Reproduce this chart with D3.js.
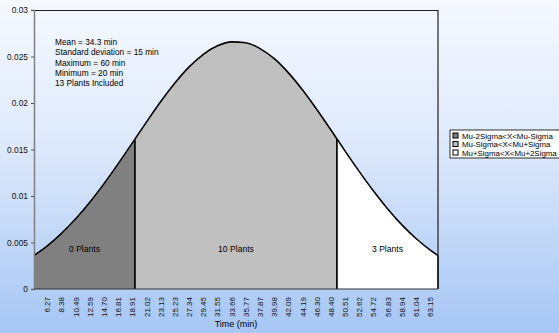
<!DOCTYPE html>
<html>
<head>
<meta charset="utf-8">
<script src="https://cdn.jsdelivr.net/npm/d3@7"></script>
<style>
  body { margin: 0; }
  svg { display: block; font-family: "Liberation Sans", Arial, sans-serif; }
</style>
</head>
<body>
<svg></svg>
<script>
const size = {w: 559, h: 333};
const margin = {t: 10, r: 121, b: 44, l: 34};

// category labels shown on the x axis
const timeTicks = ['6.27', '8.38', '10.49', '12.59', '14.70', '16.81', '18.91', '21.02', '23.13',
    '25.23', '27.34', '29.45', '31.55', '33.66', '35.77', '37.87', '39.98', '42.09', '44.19',
    '46.30', '48.40', '50.51', '52.62', '54.72', '56.83', '58.94', '61.04', '63.15'];

// curve (time in min, density)
const curveTime = [4.3, 6.27, 8.38, 10.49, 12.59, 14.70, 16.81, 18.91, 19.3, 21.02, 23.13, 25.23,
    27.34, 29.45, 31.55, 33.66, 35.77, 37.87, 39.98, 42.09, 44.19, 46.30, 48.40, 49.3, 50.51,
    52.62, 54.72, 56.83, 58.94, 61.04, 63.15, 64.3];
const curveDensity = [0.0036, 0.00464, 0.00598, 0.00755, 0.00933, 0.01133, 0.01348, 0.01571,
    0.01613, 0.01797, 0.02016, 0.02215, 0.02388, 0.02524, 0.02615, 0.02657, 0.02647, 0.02585,
    0.02476, 0.02324, 0.0214, 0.01931, 0.0171, 0.01613, 0.01483, 0.01262, 0.01053, 0.00861,
    0.0069, 0.00543, 0.00418, 0.0036];

const yTicks = [0, 0.005, 0.01, 0.015, 0.02, 0.025, 0.03];

const bands = [
    {name: 'Mu-2Sigma<X<Mu-Sigma', from: 4.3, to: 19.3, label: '0 Plants', color: '#808080'},
    {name: 'Mu-Sigma<X<Mu+Sigma', from: 19.3, to: 49.3, label: '10 Plants', color: '#c0c0c0'},
    {name: 'Mu+Sigma<X<Mu+2Sigma', from: 49.3, to: 64.3, label: '3 Plants', color: '#ffffff'}
];

const notes = ['Mean = 34.3 min', 'Standard deviation = 15 min', 'Maximum = 60 min',
    'Minimum = 20 min', '13 Plants Included'];

const svg = d3.select('svg')
    .attr('width', size.w)
    .attr('height', size.h);

// background gradient
let grad = svg.append('defs').append('linearGradient')
    .attr('id', 'bg').attr('x1', 0).attr('y1', 0).attr('x2', 0).attr('y2', 1);
grad.append('stop').attr('offset', '0%').attr('stop-color', '#f6f9ff');
grad.append('stop').attr('offset', '45%').attr('stop-color', '#dce8fb');
grad.append('stop').attr('offset', '100%').attr('stop-color', '#a6c6f4');
svg.append('rect').attr('width', size.w).attr('height', size.h).attr('fill', 'url(#bg)');

const pw = size.w - margin.l - margin.r;
const ph = size.h - margin.t - margin.b;

let x = d3.scaleLinear().domain([4.3, 64.3]).range([margin.l, margin.l + pw]);
let y = d3.scaleLinear().domain([0, 0.03]).range([margin.t + ph, margin.t]);

const pts = curveTime.map((t, i) => ({t: t, v: curveDensity[i]}));

let area = d3.area()
    .x(d => x(d.t))
    .y0(y(0))
    .y1(d => y(d.v))
    .curve(d3.curveMonotoneX);

let line = d3.line()
    .x(d => x(d.t))
    .y(d => y(d.v))
    .curve(d3.curveMonotoneX);

let plotG = svg.append('g');

bands.forEach(b => {
    let sub = pts.filter(p => p.t >= b.from - 1e-9 && p.t <= b.to + 1e-9);
    plotG.append('path')
        .attr('d', area(sub))
        .attr('fill', b.color)
        .attr('stroke', 'none');
    // vertical border at band edges
    [b.from, b.to].forEach(t => {
        let v = sub.find(p => p.t === t).v;
        if (t === 4.3) return;
        plotG.append('line')
            .attr('x1', x(t)).attr('x2', x(t))
            .attr('y1', y(v)).attr('y2', y(0))
            .attr('stroke', '#000').attr('stroke-width', 1.5);
    });
    plotG.append('text')
        .attr('x', x((b.from + b.to) / 2))
        .attr('y', 252)
        .attr('text-anchor', 'middle')
        .attr('font-size', 8.6)
        .text(b.label);
});

plotG.append('path')
    .attr('d', line(pts))
    .attr('fill', 'none')
    .attr('stroke', '#000')
    .attr('stroke-width', 1.6);

// plot frame top/right
svg.append('path')
    .attr('d', `M${margin.l},${margin.t + 0.5}H${margin.l + pw}V${margin.t + ph}`)
    .attr('fill', 'none')
    .attr('stroke', '#222')
    .attr('stroke-width', 1.2);

// y axis
let yAxis = d3.axisLeft(y).tickValues(yTicks).tickSize(3).tickFormat(d => d === 0 ? '0' : String(d));
let yG = svg.append('g').attr('transform', `translate(${margin.l},0)`).call(yAxis);
yG.select('.domain').attr('stroke', '#808080').attr('stroke-width', 1.5);
yG.selectAll('.tick line').attr('stroke', '#555');
yG.selectAll('text').attr('font-size', 8.4).attr('fill', '#111').attr('font-family', null);

// x axis
svg.append('line')
    .attr('x1', margin.l).attr('x2', margin.l + pw)
    .attr('y1', y(0)).attr('y2', y(0))
    .attr('stroke', '#333').attr('stroke-width', 1.2);

svg.append('g').selectAll('text')
    .data(timeTicks)
    .join('text')
    .attr('transform', d => `translate(${x(+d) + 3},${y(0) + 8}) rotate(-90)`)
    .attr('text-anchor', 'end')
    .attr('font-size', 8)
    .attr('fill', '#111')
    .text(d => d);

svg.append('text')
    .attr('x', x(34.3))
    .attr('y', 327)
    .attr('text-anchor', 'middle')
    .attr('font-size', 9)
    .text('Time (min)');

// notes
svg.append('g').selectAll('text')
    .data(notes)
    .join('text')
    .attr('x', 55)
    .attr('y', (d, i) => 45 + i * 10.3)
    .attr('font-size', 8.3)
    .text(d => d);

// legend
let legG = svg.append('g').attr('transform', 'translate(450,130)');
legG.append('rect')
    .attr('width', 120).attr('height', 28)
    .attr('fill', '#fff').attr('stroke', '#000').attr('stroke-width', 0.8);
let items = legG.selectAll('g.item')
    .data(bands)
    .join('g')
    .attr('class', 'item')
    .attr('transform', (d, i) => `translate(3,${3 + i * 8.5})`);
items.append('rect')
    .attr('width', 5).attr('height', 5)
    .attr('fill', d => d.color)
    .attr('stroke', '#000').attr('stroke-width', 1);
items.append('text')
    .attr('x', 9).attr('y', 5.5)
    .attr('font-size', 7.9)
    .text(d => d.name);
</script>
</body>
</html>
